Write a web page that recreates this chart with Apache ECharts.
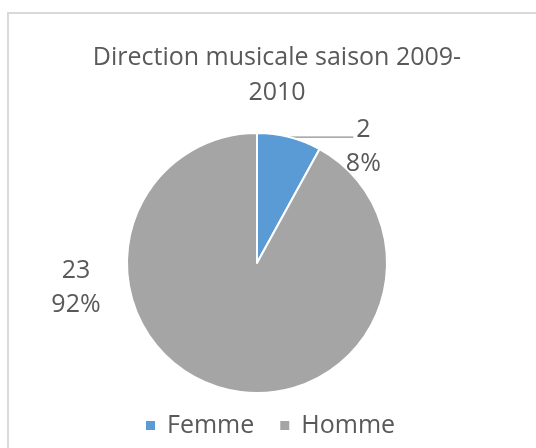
<!DOCTYPE html>
<html>
<head>
<meta charset="utf-8">
<script src="https://cdn.jsdelivr.net/npm/echarts@6/dist/echarts.min.js"></script>
<style>
html,body{margin:0;padding:0;background:#fff;}
#chart{width:536px;height:448px;}
</style>
</head>
<body>
<div id="chart"></div>
<script>
const titleText = 'Direction musicale saison 2009-\n2010';
const categories = ['Femme', 'Homme'];
const values = [2, 23];
const colors = ['#5B9BD5', '#A5A5A5'];

const FONT = 'Open Sans';
const TXT = '#595959';

const chart = echarts.init(document.getElementById('chart'));
const total = values.reduce((a, b) => a + b, 0);

chart.setOption({
  backgroundColor: '#fff',
  animation: false,
  graphic: [{
    type: 'rect',
    shape: { x: 8, y: 13, width: 700, height: 700 },
    style: { fill: 'none', stroke: '#D9D9D9', lineWidth: 2 },
    silent: true
  }],
  title: {
    text: titleText,
    left: 272,
    top: 35,
    textAlign: 'center',
    textStyle: { fontFamily: FONT, fontSize: 25, fontWeight: 'normal', color: TXT, lineHeight: 35 }
  },
  legend: {
    data: categories,
    left: 139,
    top: 408,
    itemWidth: 11,
    itemHeight: 11,
    itemGap: 24,
    icon: 'rect',
    textStyle: { fontFamily: FONT, fontSize: 25, color: TXT, padding: [0, 0, 0, 6] }
  },
  series: [{
    type: 'pie',
    center: [257, 263],
    radius: 130,
    startAngle: 90,
    clockwise: true,
    avoidLabelOverlap: false,
    itemStyle: { borderColor: '#fff', borderWidth: 2 },
    label: {
      show: true,
      position: 'outside',
      distanceToLabelLine: -10,
      padding: [20, 0, 0, 0],
      formatter: function (p) {
        return '{a|' + p.value + '}\n{a|' + Math.round(p.value / total * 100) + '%}';
      },
      rich: {
        a: { fontFamily: FONT, fontSize: 25, color: TXT, align: 'center', width: 40, lineHeight: 34 }
      }
    },
    labelLine: {
      show: true,
      length: 0,
      length2: 64,
      smooth: false,
      minTurnAngle: 0,
      maxSurfaceAngle: 180,
      lineStyle: { color: '#8F8F8F', width: 1.2 }
    },
    labelLayout: function (p) {
      if (p.dataIndex === 1) {
        return { x: 76, y: 278, align: 'center', verticalAlign: 'middle' };
      }
    },
    data: categories.map((c, i) => ({
      name: c,
      value: values[i],
      itemStyle: { color: colors[i] },
      labelLine: { show: i === 0 }
    }))
  }]
});
</script>
</body>
</html>
